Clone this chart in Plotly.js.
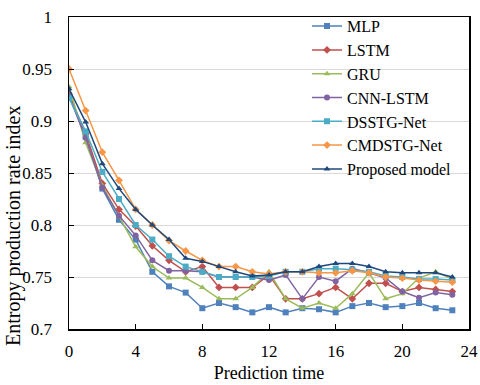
<!DOCTYPE html>
<html>
<head>
<meta charset="utf-8">
<script src="https://cdn.plot.ly/plotly-3.0.1.min.js"></script>
<style>
  html, body { margin: 0; padding: 0; background: #fff; }
  #chartDiv { width: 480px; height: 385px; }
</style>
</head>
<body>
<div id="chartDiv"></div>
<script>
var steps = [0, 1, 2, 3, 4, 5, 6, 7, 8, 9, 10, 11, 12, 13, 14, 15, 16, 17, 18, 19, 20, 21, 22, 23];

var mlp      = [0.925, 0.885, 0.835, 0.805, 0.786, 0.755, 0.741, 0.735, 0.720, 0.725, 0.721, 0.716, 0.721, 0.716, 0.720, 0.719, 0.716, 0.722, 0.725, 0.721, 0.722, 0.725, 0.720, 0.718];
var lstm     = [0.926, 0.888, 0.840, 0.815, 0.799, 0.780, 0.766, 0.755, 0.760, 0.740, 0.740, 0.740, 0.752, 0.729, 0.729, 0.734, 0.740, 0.729, 0.744, 0.744, 0.736, 0.740, 0.738, 0.736];
var gru      = [0.933, 0.879, 0.838, 0.808, 0.779, 0.760, 0.749, 0.749, 0.740, 0.729, 0.729, 0.740, 0.755, 0.729, 0.720, 0.725, 0.720, 0.734, 0.754, 0.729, 0.734, 0.749, 0.755, 0.748];
var cnnLstm  = [0.924, 0.884, 0.836, 0.809, 0.790, 0.766, 0.756, 0.756, 0.755, 0.750, 0.750, 0.750, 0.747, 0.752, 0.729, 0.750, 0.746, 0.758, 0.754, 0.749, 0.736, 0.730, 0.735, 0.733];
var dsstg    = [0.922, 0.890, 0.851, 0.825, 0.800, 0.786, 0.770, 0.760, 0.755, 0.750, 0.750, 0.750, 0.751, 0.755, 0.755, 0.758, 0.758, 0.757, 0.755, 0.751, 0.750, 0.748, 0.748, 0.747];
var cmdstg   = [0.950, 0.910, 0.870, 0.843, 0.815, 0.800, 0.785, 0.775, 0.766, 0.760, 0.760, 0.755, 0.753, 0.755, 0.755, 0.754, 0.754, 0.756, 0.754, 0.750, 0.749, 0.747, 0.746, 0.745];
var proposed = [0.931, 0.899, 0.859, 0.835, 0.815, 0.800, 0.786, 0.768, 0.765, 0.760, 0.755, 0.751, 0.752, 0.755, 0.755, 0.760, 0.763, 0.763, 0.760, 0.755, 0.754, 0.754, 0.754, 0.750];

var names   = ['MLP', 'LSTM', 'GRU', 'CNN-LSTM', 'DSSTG-Net', 'CMDSTG-Net', 'Proposed model'];
var series  = [mlp, lstm, gru, cnnLstm, dsstg, cmdstg, proposed];
var colors  = ['#4F81BD', '#C0504D', '#9BBB59', '#8064A2', '#4BACC6', '#F79646', '#1F497D'];
var symbols = ['square', 'diamond', 'triangle-up', 'circle', 'square', 'diamond', 'triangle-up'];

var yTicks    = [0.7, 0.75, 0.8, 0.85, 0.9, 0.95, 1];
var yTickText = ['0.7', '0.75', '0.8', '0.85', '0.9', '0.95', '1'];

var serif = 'Liberation Serif, Times New Roman, serif';

var data = [];
for (var i = 0; i < names.length; i++) {
  data.push({
    mode: 'lines+markers',
    name: names[i],
    x: steps,
    y: series[i],
    line: { color: colors[i], width: 1.5 },
    marker: { color: colors[i], symbol: symbols[i], size: 6 }
  });
}

var layout = {
  width: 480,
  height: 385,
  margin: { l: 69, r: 11, t: 9, b: 56 },
  paper_bgcolor: '#fff',
  plot_bgcolor: '#fff',
  font: { family: serif, size: 17, color: '#000' },
  showlegend: true,
  legend: {
    x: 0.595, y: 1.025,
    xanchor: 'left', yanchor: 'top',
    bgcolor: 'rgba(0,0,0,0)',
    font: { family: serif, size: 16, color: '#000' },
    tracegroupgap: 0
  },
  xaxis: {
    range: [0, 24],
    dtick: 4,
    tick0: 0,
    ticks: 'inside',
    ticklen: 5,
    tickcolor: '#000',
    showgrid: false,
    zeroline: false,
    showline: true,
    mirror: true,
    linecolor: '#000',
    linewidth: 1.5,
    ticklabelstandoff: 6,
    title: { text: 'Prediction time', font: { family: serif, size: 18 }, standoff: 6 }
  },
  yaxis: {
    range: [0.7, 1],
    tickmode: 'array',
    tickvals: yTicks,
    ticktext: yTickText,
    ticks: 'inside',
    ticklen: 5,
    tickcolor: '#000',
    showgrid: true,
    gridcolor: '#d9d9d9',
    gridwidth: 1,
    zeroline: false,
    showline: true,
    mirror: true,
    linecolor: '#000',
    linewidth: 1.5,
    ticklabelstandoff: 12
  },
  // y title sits lower than the plot centre in the original, so it is placed by hand
  annotations: [{
    text: 'Entropy production rate index',
    textangle: -90,
    xref: 'paper', yref: 'paper',
    x: -0.14, y: 0.33,
    xanchor: 'center', yanchor: 'middle',
    showarrow: false,
    font: { family: serif, size: 20, color: '#000' }
  }]
};

var plotlyBar = {
  displayModeBar: false,
  staticPlot: true
};

Plotly.newPlot('chartDiv', data, layout, plotlyBar);
</script>
</body>
</html>
